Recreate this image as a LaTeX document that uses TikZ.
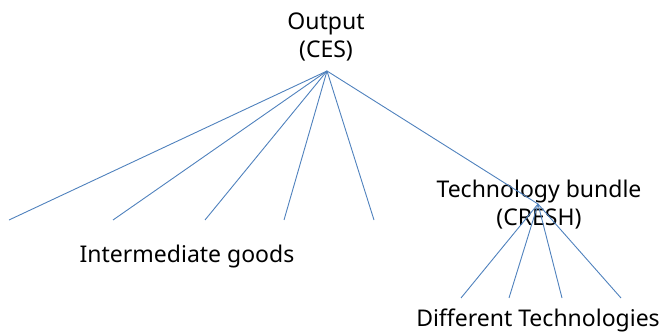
\documentclass[tikz,border=0pt]{standalone}
\usepackage{fontspec}
\setmainfont{Noto Sans}
\usetikzlibrary{positioning}
\definecolor{linkblue}{RGB}{79,129,189}

\begin{document}
\begin{tikzpicture}[x=1pt,y=-1pt,
   lbl/.style={align=center,font=\fontsize{23}{28}\selectfont,inner sep=0pt},
   branch/.style={draw=linkblue,line width=0.9pt}]
   \useasboundingbox (0,0) rectangle (664,334);
   % text labels
   \node[lbl] (out)  at (326,37)  {Output\\(CES)};
   \node[lbl] (tech) at (539,205) {Technology bundle\\(CRESH)};
   \node[lbl] (int)  at (187,257) {Intermediate goods};
   \node[lbl] (diff) at (538,320) {Different Technologies};
   % branching points
   \coordinate (top) at (327,71);
   \coordinate (sub) at (538,204);
   \coordinate (i1) at (9,220);
   \coordinate (i2) at (113,220);
   \coordinate (i3) at (205,220);
   \coordinate (i4) at (284,220);
   \coordinate (i5) at (374,220);
   \coordinate (d1) at (461,298);
   \coordinate (d2) at (509,298);
   \coordinate (d3) at (562,298);
   \coordinate (d4) at (621,298);

   \path[branch] (top) edge (i1)
                       edge (i2)
                       edge (i3)
                       edge (i4)
                       edge (i5)
                       edge (sub)
                 (sub) edge (d1)
                       edge (d2)
                       edge (d3)
                       edge (d4);
\end{tikzpicture}
\end{document}
